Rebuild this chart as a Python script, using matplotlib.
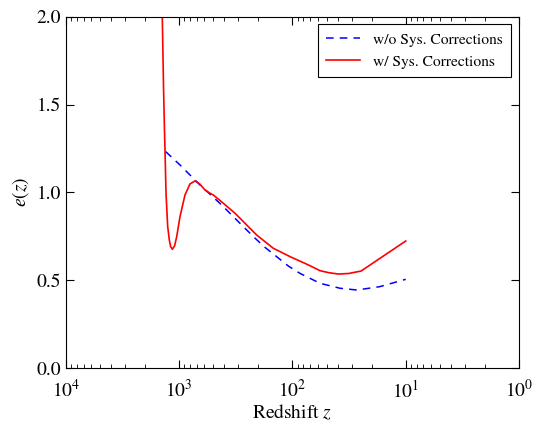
import numpy as np
import matplotlib
matplotlib.use("Agg")
import matplotlib.pyplot as plt
from matplotlib.ticker import LogLocator, NullFormatter

plt.rcParams['font.family'] = ['STIXGeneral', 'DejaVu Serif']
plt.rcParams['mathtext.fontset'] = 'stix'

# Data: without systematic corrections (blue dashed)
z_wo = [1318, 1000, 804, 656, 422, 333, 272, 214, 175, 138, 109, 86, 57, 38, 27, 17, 10]
e_wo = [1.232, 1.16, 1.099, 1.042, 0.928, 0.862, 0.805, 0.739, 0.687, 0.634, 0.581,
        0.539, 0.482, 0.454, 0.444, 0.463, 0.505]

# Data: with systematic corrections (red solid)
z_w = [1430, 1412, 1377, 1350, 1336, 1309, 1265, 1224, 1190, 1152, 1100, 1053, 985, 890,
       804, 726, 660, 593, 535, 500, 408, 322, 291, 250, 207, 148, 105, 72.5, 57, 48,
       39.4, 32, 24.8, 10]
e_w = [2.2, 2.0, 1.6, 1.35, 1.24, 0.995, 0.805, 0.729, 0.69, 0.676, 0.695, 0.748, 0.862, 0.985,
       1.048, 1.065, 1.048, 1.014, 0.995, 0.985, 0.938, 0.881, 0.853, 0.81, 0.757, 0.682, 0.634,
       0.587, 0.554, 0.543, 0.535, 0.538, 0.552, 0.723]

labels_y = ['0.0', '0.5', '1.0', '1.5', '2.0']
ticks_y = [0.0, 0.5, 1.0, 1.5, 2.0]

fig = plt.figure(figsize=(5.35, 4.23), dpi=100)
ax = fig.add_axes([0.1234, 0.130, 0.8466, 0.8305])

ax.plot(z_wo, e_wo, color='blue', ls=(0, (5, 4)), lw=1.1, label='w/o Sys. Corrections')
ax.plot(z_w, e_w, color='red', ls='-', lw=1.2, label='w/ Sys. Corrections')

ax.set_xscale('log')
ax.set_xlim(1e4, 1e0)
ax.set_ylim(0, 2.0)
ax.xaxis.set_major_locator(LogLocator(base=10, numticks=10))
ax.xaxis.set_minor_locator(LogLocator(base=10, subs=np.arange(2, 10), numticks=20))
ax.xaxis.set_minor_formatter(NullFormatter())
ax.set_yticks(ticks_y)
ax.set_yticklabels(labels_y)

ax.tick_params(which='both', direction='in', top=True, right=True, labelsize=14)
ax.tick_params(which='major', length=6, width=0.8)
ax.tick_params(which='minor', length=3, width=0.6)
ax.tick_params(axis='x', pad=8)

ax.set_xlabel('Redshift $z$', fontsize=14, labelpad=1)
ax.set_ylabel('$e(z)$', fontsize=14, labelpad=4)

leg = ax.legend(loc='upper right', fontsize=11.2, fancybox=False, edgecolor='black',
                framealpha=1, borderaxespad=0.5, handlelength=2.2, borderpad=0.55,
                labelspacing=0.5)
leg.get_frame().set_linewidth(0.8)

fig.savefig('out.png', dpi=100)
